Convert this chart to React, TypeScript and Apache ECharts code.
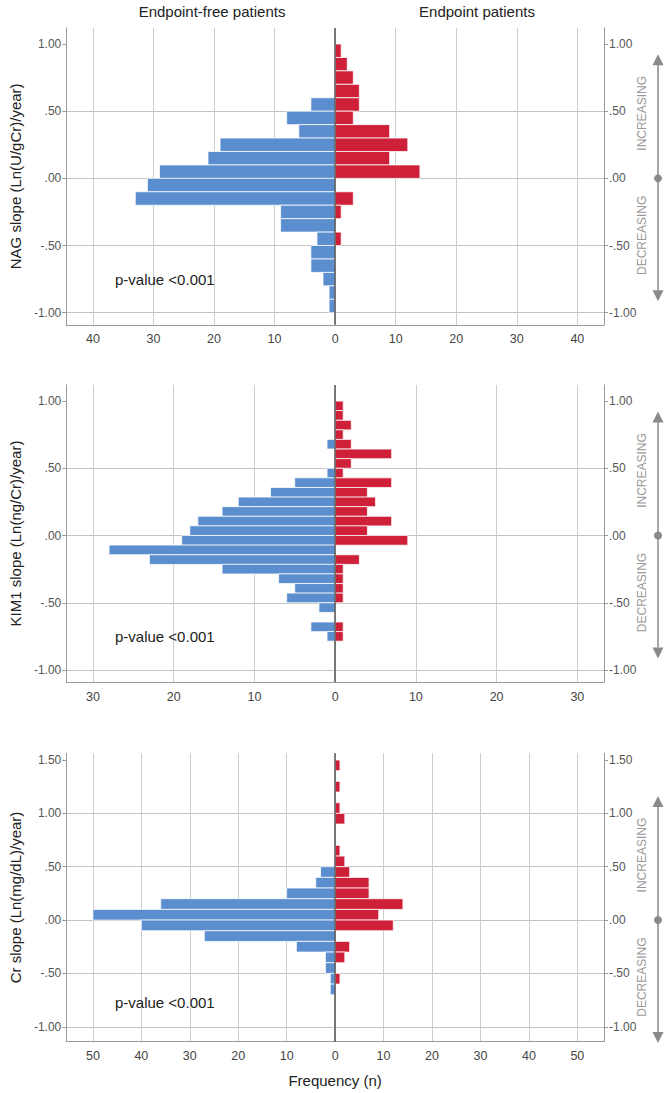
import React, { useEffect, useRef } from 'react';
import * as echarts from 'echarts';

// ---------- data ----------
const nagBins = [0.95, 0.85, 0.75, 0.65, 0.55, 0.45, 0.35, 0.25, 0.15, 0.05, -0.05, -0.15, -0.25, -0.35, -0.45, -0.55, -0.65, -0.75, -0.85, -0.95];
const nagFree = [0, 0, 0, 0, 4, 8, 6, 19, 21, 29, 31, 33, 9, 9, 3, 4, 4, 2, 1, 1];
const nagEvent = [1, 2, 3, 4, 4, 3, 9, 12, 9, 14, 0, 3, 1, 0, 1, 0, 0, 0, 0, 0];

const kimBins = [0.964, 0.893, 0.821, 0.75, 0.679, 0.607, 0.536, 0.464, 0.393, 0.321, 0.25, 0.179, 0.107, 0.036, -0.036, -0.107, -0.179, -0.25, -0.321, -0.393, -0.464, -0.536, -0.607, -0.679, -0.75];
const kimFree = [0, 0, 0, 0, 1, 0, 0, 1, 5, 8, 12, 14, 17, 18, 19, 28, 23, 14, 7, 5, 6, 2, 0, 3, 1];
const kimEvent = [1, 1, 2, 1, 2, 7, 2, 1, 7, 4, 5, 4, 7, 4, 9, 0, 3, 1, 1, 1, 1, 0, 0, 1, 1];

const crBins = [1.45, 1.35, 1.25, 1.15, 1.05, 0.95, 0.85, 0.75, 0.65, 0.55, 0.45, 0.35, 0.25, 0.15, 0.05, -0.05, -0.15, -0.25, -0.35, -0.45, -0.55, -0.65];
const crFree = [0, 0, 0, 0, 0, 0, 0, 0, 0, 0, 3, 4, 10, 36, 50, 40, 27, 8, 2, 2, 1, 1];
const crEvent = [1, 0, 1, 0, 1, 2, 0, 0, 1, 2, 3, 7, 7, 14, 9, 12, 0, 3, 2, 0, 1, 0];

const binWidths = [0.1, 1 / 14, 0.1];

const yTicks1 = [-1, -0.5, 0, 0.5, 1];
const yTicks2 = [-1, -0.5, 0, 0.5, 1];
const yTicks3 = [-1, -0.5, 0, 0.5, 1, 1.5];
const xTicks1 = [-40, -30, -20, -10, 0, 10, 20, 30, 40];
const xTicks2 = [-30, -20, -10, 0, 10, 20, 30];
const xTicks3 = [-50, -40, -30, -20, -10, 0, 10, 20, 30, 40, 50];

const xExtent = [44.4, 33.3, 55.5];
const yMins = [-1.09, -1.09, -1.14];
const yMaxs = [1.12, 1.12, 1.563];

const panelTitles = ['NAG slope (Ln(U/gCr)/year)', 'KIM1 slope (Ln(ng/Cr)/year)', 'Cr slope (Ln(mg/dL)/year)'];
const groupLabels = ['Endpoint-free patients', 'Endpoint patients'];
const pValueText = 'p-value <0.001';
const pValueLevels = [-0.75, -0.75, -0.77];
const xAxisTitle = 'Frequency (n)';
const trendLabels = ['INCREASING', 'DECREASING'];

// ---------- styles ----------
const FONT = '"Liberation Sans", Arial, sans-serif';
const BLUE = '#5a8ecf';
const RED = '#cf2039';
const AXIS = '#9a9a9a';
const GRIDC = '#cdcdcd';
const ANNO = '#8a8a8a';

const gridBoxes = [
  { left: 66, width: 538, top: 27.9, height: 296.9 },
  { left: 66, width: 538, top: 384.9, height: 297.2 },
  { left: 66, width: 538, top: 753.3, height: 288.4 },
];

const fmtY = (v: number) => {
  if (Math.abs(v * 2 - Math.round(v * 2)) > 1e-6) return '';
  let s = Math.abs(v).toFixed(2);
  if (s.startsWith('0')) s = s.slice(1);
  return (v < -1e-9 ? '-' : '') + s;
};
const fmtX = (v: number) => (Math.abs(v % 10) > 1e-6 ? '' : String(Math.abs(Math.round(v))));

function makeBars(bins: number[], counts: number[], sign: number, w: number, idx: number, color: string, withCenter: boolean) {
  const s: any = {
    type: 'custom',
    xAxisIndex: idx,
    yAxisIndex: idx * 2,
    data: bins.map((b, i) => [sign * counts[i], b]).filter((d) => d[0] !== 0),
    encode: { x: 0, y: 1 },
    silent: true,
    renderItem: (_p: any, api: any) => {
      const v = api.value(0);
      const y = api.value(1);
      const a = api.coord([0, y + w / 2]);
      const b = api.coord([v, y - w / 2]);
      return {
        type: 'rect',
        shape: { x: Math.min(a[0], b[0]), y: a[1], width: Math.abs(b[0] - a[0]), height: b[1] - a[1] },
        style: { fill: color, stroke: 'rgba(255,255,255,0.75)', lineWidth: 1 },
      };
    },
  };
  if (withCenter) {
    s.markLine = {
      silent: true,
      symbol: 'none',
      label: { show: false },
      lineStyle: { color: '#555', width: 1.5, type: 'solid' },
      data: [{ xAxis: 0 }],
    };
  }
  return s;
}

export default function App() {
  const ref = useRef<HTMLDivElement>(null);
  useEffect(() => {
    if (!ref.current) return;
    const chart = echarts.init(ref.current, undefined, { renderer: 'svg' });
    const xTicks = [xTicks1, xTicks2, xTicks3];
    const yTicks = [yTicks1, yTicks2, yTicks3];

    const xAxis = [0, 1, 2].map((i) => ({
      type: 'value',
      gridIndex: i,
      min: -xExtent[i],
      max: xExtent[i],
      minInterval: 10,
      maxInterval: 10,
      axisLine: { show: true, onZero: false, lineStyle: { color: AXIS, width: 1 } },
      axisTick: { show: false },
      axisLabel: { color: '#444', fontSize: 12.5, fontFamily: FONT, margin: 8, formatter: fmtX, customValues: xTicks[i] },
      splitLine: { show: true, lineStyle: { color: GRIDC, width: 1 } },
      name: i === 2 ? xAxisTitle : '',
      nameLocation: 'middle',
      nameGap: 31,
      nameTextStyle: { color: '#222', fontSize: 15, fontFamily: FONT },
    }));

    const yAxis: any[] = [];
    [0, 1, 2].forEach((i) => {
      const common = {
        type: 'value',
        gridIndex: i,
        min: yMins[i],
        max: yMaxs[i],
        minInterval: 0.5,
        maxInterval: 0.5,
        axisLine: { show: true, onZero: false, lineStyle: { color: AXIS, width: 1 } },
        axisTick: { show: true, length: 4, lineStyle: { color: AXIS }, customValues: yTicks[i] },
        axisLabel: { color: '#555', fontSize: 12, fontFamily: FONT, margin: 5, formatter: fmtY, customValues: yTicks[i] },
      };
      yAxis.push({
        ...common,
        position: 'left',
        splitLine: { show: true, showMaxLine: false, lineStyle: { color: '#c4c4c4', width: 1 } },
        name: panelTitles[i],
        nameLocation: 'middle',
        nameGap: 42,
        nameTextStyle: { color: '#222', fontSize: 15, fontFamily: FONT },
      });
      yAxis.push({ ...common, position: 'right', splitLine: { show: false } });
    });

    const series = [
      makeBars(nagBins, nagFree, -1, binWidths[0], 0, BLUE, false),
      makeBars(nagBins, nagEvent, 1, binWidths[0], 0, RED, true),
      makeBars(kimBins, kimFree, -1, binWidths[1], 1, BLUE, false),
      makeBars(kimBins, kimEvent, 1, binWidths[1], 1, RED, true),
      makeBars(crBins, crFree, -1, binWidths[2], 2, BLUE, false),
      makeBars(crBins, crEvent, 1, binWidths[2], 2, RED, true),
    ];

    chart.setOption({
      animation: false,
      backgroundColor: '#ffffff',
      textStyle: { fontFamily: FONT },
      grid: gridBoxes,
      xAxis,
      yAxis,
      series,
    });

    const g: any[] = [
      { type: 'text', x: 212, y: 11, style: { text: groupLabels[0], fill: '#222', fontSize: 15, fontFamily: FONT, align: 'center', verticalAlign: 'middle' } },
      { type: 'text', x: 477, y: 11, style: { text: groupLabels[1], fill: '#222', fontSize: 15, fontFamily: FONT, align: 'center', verticalAlign: 'middle' } },
    ];
    [0, 1, 2].forEach((i) => {
      const zero = chart.convertToPixel({ seriesIndex: i * 2 }, [0, 0]) as number[];
      const pv = chart.convertToPixel({ seriesIndex: i * 2 }, [0, pValueLevels[i]]) as number[];
      const zy = zero[1];
      const ax = 658;
      g.push({ type: 'text', x: gridBoxes[i].left + 49, y: pv[1], style: { text: pValueText, fill: '#222', fontSize: 15, fontFamily: FONT, align: 'left', verticalAlign: 'middle' } });
      g.push({ type: 'line', shape: { x1: ax, y1: zy - 114, x2: ax, y2: zy + 112 }, style: { stroke: ANNO, lineWidth: 1.5 } });
      g.push({ type: 'polygon', shape: { points: [[ax, zy - 124], [ax - 5.5, zy - 113], [ax + 5.5, zy - 113]] }, style: { fill: ANNO } });
      g.push({ type: 'polygon', shape: { points: [[ax, zy + 123], [ax - 5.5, zy + 112], [ax + 5.5, zy + 112]] }, style: { fill: ANNO } });
      g.push({ type: 'circle', shape: { cx: ax, cy: zy, r: 4 }, style: { fill: ANNO } });
      g.push({ type: 'text', x: 642, y: zy - 65, rotation: Math.PI / 2, style: { text: trendLabels[0], fill: '#999', fontSize: 12, fontFamily: FONT, align: 'center', verticalAlign: 'middle' } });
      g.push({ type: 'text', x: 642, y: zy + 57, rotation: Math.PI / 2, style: { text: trendLabels[1], fill: '#999', fontSize: 12, fontFamily: FONT, align: 'center', verticalAlign: 'middle' } });
    });
    chart.setOption({ graphic: g });

    return () => chart.dispose();
  }, []);
  return <div ref={ref} style={{ position: 'absolute', left: 0, top: 0, width: 671, height: 1093 }} />;
}
